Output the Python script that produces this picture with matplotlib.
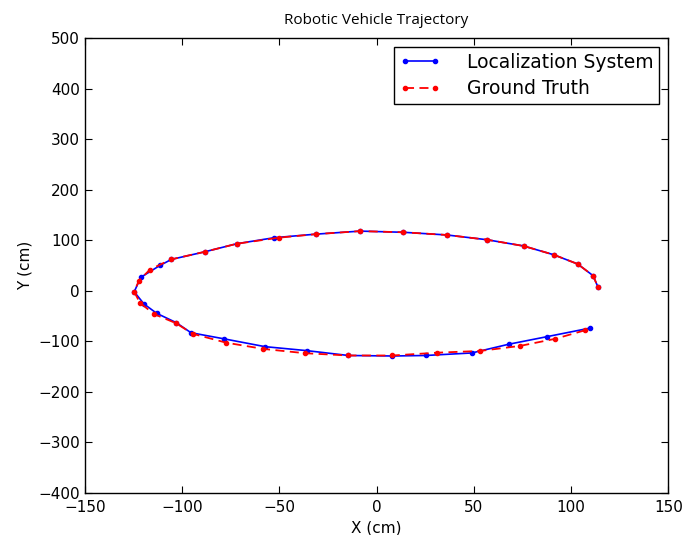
import matplotlib
matplotlib.use('Agg')
import matplotlib.pyplot as plt

# Localization system estimate (cm)
loc_x = [109.5, 87.6, 67.9, 49.0, 25.3, 8.2, -14.5, -35.6, -57.4, -78.5, -95.4, -103.0,
         -113.1, -119.6, -124.6, -121.2, -111.4, -105.5, -88.4, -71.9, -52.6, -31.1,
         -8.5, 13.8, 36.1, 56.7, 75.6, 91.0, 103.4, 111.3, 113.8]
loc_y = [-74.0, -90.8, -105.8, -123.0, -128.0, -129.0, -128.0, -118.5, -110.5, -95.0, -83.0, -63.0,
         -44.5, -26.0, -2.0, 26.7, 50.0, 62.0, 77.0, 93.0, 105.0, 112.0,
         118.0, 115.7, 110.4, 101.0, 88.6, 71.4, 53.0, 30.0, 8.0]

# Ground truth (cm)
gt_x = [107.3, 91.9, 73.9, 53.3, 31.0, 8.2, -14.5, -36.8, -58.2, -77.4, -94.6, -103.2,
        -114.5, -121.7, -124.6, -122.2, -116.5, -105.7, -88.4, -71.9, -50.3, -31.1,
        -8.5, 13.8, 36.1, 56.7, 75.6, 91.0, 103.4, 111.3, 113.8]
gt_y = [-78.0, -95.0, -109.0, -119.0, -122.5, -128.0, -128.0, -123.5, -115.0, -102.6, -85.0, -64.0,
        -46.0, -23.5, -2.0, 20.0, 42.0, 62.0, 77.0, 93.0, 105.0, 112.0,
        118.0, 115.7, 110.4, 101.0, 88.6, 71.4, 53.0, 30.0, 8.0]

fig = plt.figure(figsize=(6.84, 5.35), dpi=100)
ax = fig.add_axes([0.124, 0.0785, 0.853, 0.8505])

ax.plot(loc_x, loc_y, 'b.-', markersize=6, linewidth=1.2, label='Localization System')
ax.plot(gt_x, gt_y, 'r.--', markersize=6, linewidth=1.3, dashes=(5, 3), label='Ground Truth')

ax.set_xlim(-150, 150)
ax.set_ylim(-400, 500)
ax.set_xticks(range(-150, 151, 50))
ax.set_yticks(range(-400, 501, 100))
ax.tick_params(direction='in', top=True, right=True, labelsize=11, length=5)
ax.tick_params(axis='x', pad=5)
for s in ax.spines.values():
    s.set_linewidth(1)

ax.set_xlabel('X (cm)', fontsize=11)
ax.set_ylabel('Y (cm)', fontsize=11)
ax.set_title('Robotic Vehicle Trajectory', fontsize=11, family='Open Sans', pad=10)

leg = ax.legend(loc='upper right', fontsize=13.5, numpoints=2, fancybox=False,
                framealpha=1, edgecolor='black', handlelength=2.2,
                handletextpad=1.4, borderpad=0.3, labelspacing=0.4,
                borderaxespad=0.5)
leg.get_frame().set_linewidth(1)

fig.savefig('out.png', dpi=100, facecolor='white')
